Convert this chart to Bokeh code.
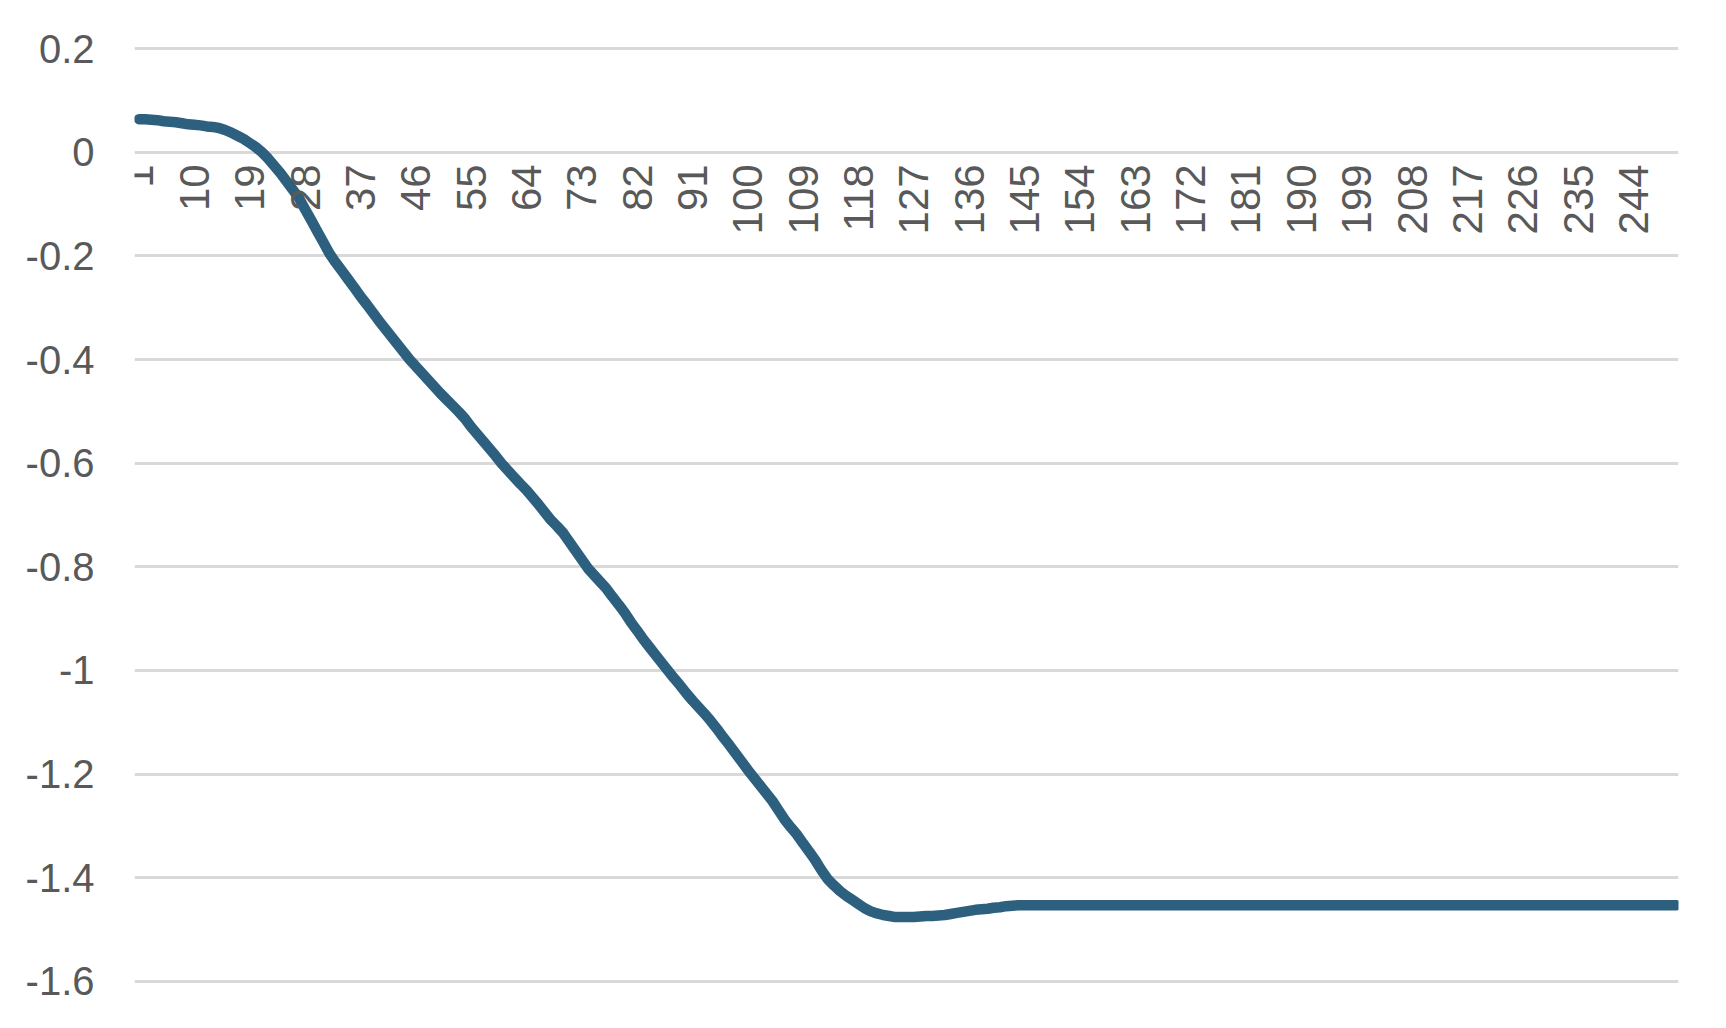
import math
from bokeh.plotting import figure
from bokeh.models import Range1d, FixedTicker
from bokeh.embed import file_html
from bokeh.resources import INLINE

# ---- data (value per category 1..251) ----
seg_001_020 = [0.064, 0.064, 0.063, 0.062, 0.060, 0.059, 0.058, 0.056, 0.054, 0.053,
               0.052, 0.050, 0.049, 0.047, 0.043, 0.038, 0.032, 0.026, 0.018, 0.010]
seg_021_040 = [0.000, -0.012, -0.026, -0.040, -0.056, -0.072, -0.088, -0.110, -0.131, -0.153,
               -0.174, -0.196, -0.213, -0.229, -0.245, -0.261, -0.278, -0.293, -0.309, -0.325]
seg_041_060 = [-0.340, -0.355, -0.370, -0.385, -0.400, -0.413, -0.426, -0.439, -0.452, -0.465,
               -0.477, -0.489, -0.501, -0.514, -0.530, -0.544, -0.558, -0.572, -0.586, -0.601]
seg_061_080 = [-0.614, -0.627, -0.640, -0.652, -0.666, -0.680, -0.695, -0.710, -0.722, -0.735,
               -0.752, -0.769, -0.786, -0.803, -0.816, -0.829, -0.842, -0.858, -0.873, -0.889]
seg_081_100 = [-0.907, -0.923, -0.940, -0.955, -0.970, -0.985, -1.000, -1.015, -1.029, -1.044,
               -1.058, -1.071, -1.084, -1.098, -1.113, -1.129, -1.144, -1.160, -1.176, -1.192]
seg_101_120 = [-1.207, -1.222, -1.237, -1.252, -1.270, -1.288, -1.303, -1.317, -1.334, -1.350,
               -1.367, -1.386, -1.403, -1.415, -1.426, -1.435, -1.443, -1.451, -1.459, -1.465]
seg_121_144 = [-1.469, -1.472, -1.474, -1.476, -1.476, -1.476, -1.476, -1.475, -1.474, -1.474,
               -1.473, -1.472, -1.470, -1.468, -1.466, -1.464, -1.462, -1.461, -1.460, -1.458,
               -1.457, -1.455, -1.454, -1.453]
seg_145_251 = [-1.453, -1.453, -1.453, -1.453, -1.453, -1.453, -1.453, -1.453, -1.453, -1.453,
               -1.453, -1.453, -1.453, -1.453, -1.453, -1.453, -1.453, -1.453, -1.453, -1.453,
               -1.453, -1.453, -1.453, -1.453, -1.453, -1.453, -1.453, -1.453, -1.453, -1.453,
               -1.453, -1.453, -1.453, -1.453, -1.453, -1.453, -1.453, -1.453, -1.453, -1.453,
               -1.453, -1.453, -1.453, -1.453, -1.453, -1.453, -1.453, -1.453, -1.453, -1.453,
               -1.453, -1.453, -1.453, -1.453, -1.453, -1.453, -1.453, -1.453, -1.453, -1.453,
               -1.453, -1.453, -1.453, -1.453, -1.453, -1.453, -1.453, -1.453, -1.453, -1.453,
               -1.453, -1.453, -1.453, -1.453, -1.453, -1.453, -1.453, -1.453, -1.453, -1.453,
               -1.453, -1.453, -1.453, -1.453, -1.453, -1.453, -1.453, -1.453, -1.453, -1.453,
               -1.453, -1.453, -1.453, -1.453, -1.453, -1.453, -1.453, -1.453, -1.453, -1.453,
               -1.453, -1.453, -1.453, -1.453, -1.453, -1.453, -1.453]

values = (seg_001_020 + seg_021_040 + seg_041_060 + seg_061_080 + seg_081_100
          + seg_101_120 + seg_121_144 + seg_145_251)
categories = list(range(1, len(values) + 1))

x_tick_labels = [1, 10, 19, 28, 37, 46, 55, 64, 73, 82, 91, 100, 109, 118, 127, 136,
                 145, 154, 163, 172, 181, 190, 199, 208, 217, 226, 235, 244]
y_ticks = [0.2, 0.0, -0.2, -0.4, -0.6, -0.8, -1.0, -1.2, -1.4, -1.6]
y_tick_labels = ["0.2", "0", "-0.2", "-0.4", "-0.6", "-0.8", "-1", "-1.2", "-1.4", "-1.6"]

LINE_COLOR = "#2D5F7F"
TEXT_COLOR = "#595959"
GRID_COLOR = "#D9D9D9"
FONT = "Liberation Sans"

p = figure(width=1710, height=1012, output_backend="svg", toolbar_location=None,
           x_range=Range1d(0.27, 251.33), y_range=Range1d(-1.61, 0.21),
           min_border_left=134, min_border_right=32, min_border_top=43, min_border_bottom=26)
p.outline_line_color = None
p.background_fill_color = "white"
p.border_fill_color = "white"

p.line(categories, values, line_color=LINE_COLOR, line_width=10.5,
       line_cap="round", line_join="round")

# y axis
p.yaxis.ticker = FixedTicker(ticks=y_ticks)
p.yaxis.major_label_overrides = {t: l for t, l in zip(y_ticks, y_tick_labels)}
p.yaxis.axis_line_color = None
p.yaxis.major_tick_line_color = None
p.yaxis.minor_tick_line_color = None
p.yaxis.major_tick_out = 0
p.yaxis.major_tick_in = 0
p.yaxis.major_label_standoff = 40
p.yaxis.major_label_text_font = FONT
p.yaxis.major_label_text_font_size = "40px"
p.yaxis.major_label_text_color = TEXT_COLOR

p.ygrid.ticker = FixedTicker(ticks=y_ticks)
p.ygrid.grid_line_color = GRID_COLOR
p.ygrid.grid_line_width = 3
p.xgrid.grid_line_color = None

# x axis at y = 0
p.xaxis.fixed_location = 0
p.xaxis.ticker = FixedTicker(ticks=x_tick_labels)
p.xaxis.axis_line_color = None
p.xaxis.major_tick_line_color = None
p.xaxis.minor_tick_line_color = None
p.xaxis.major_tick_out = 0
p.xaxis.major_tick_in = 0
p.xaxis.major_label_orientation = math.pi / 2
p.xaxis.major_label_standoff = 12
p.xaxis.major_label_text_font = FONT
p.xaxis.major_label_text_font_size = "42px"
p.xaxis.major_label_text_color = TEXT_COLOR

open("out.html", "w").write(file_html(p, INLINE))
